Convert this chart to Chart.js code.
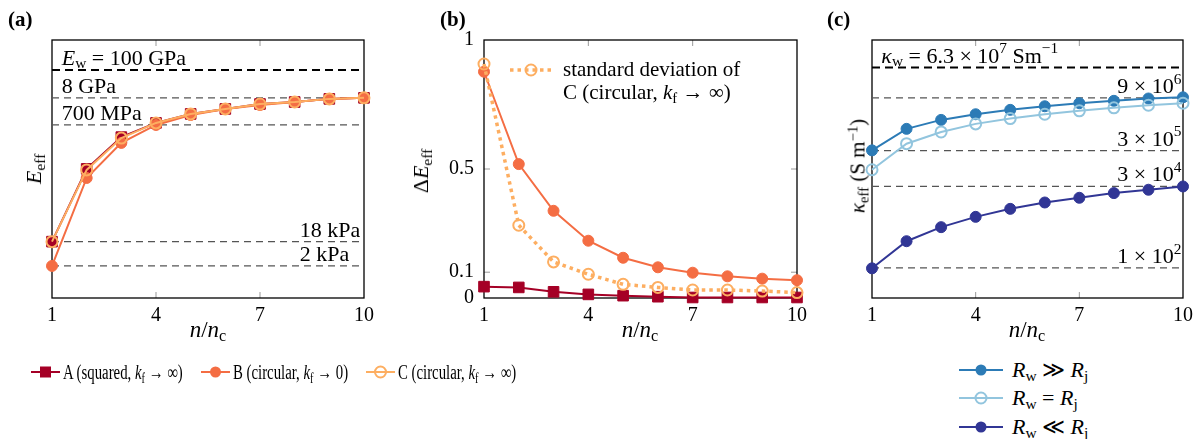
<!DOCTYPE html>
<html>
<head>
<meta charset="utf-8">
<script src="https://cdn.jsdelivr.net/npm/chart.js@4.4.1/dist/chart.umd.min.js"></script>
<style>
  body { margin: 0; background: #fff; font-family: "Liberation Serif", serif; }
  #wrap { position: relative; width: 1199px; height: 439px; overflow: hidden; }
  canvas { position: absolute; top: 0; }
  .t { position: absolute; white-space: nowrap; color: #000; line-height: 1; transform: translate(-50%, -50%); }
  .rot { transform: translate(-50%, -50%) rotate(-90deg); }
  .lbl { position: absolute; font-size: 21px; font-weight: bold; transform: translateY(-50%); line-height: 1; }
  sub { font-size: 70%; vertical-align: -0.25em; line-height: 0; }
  sup { font-size: 70%; vertical-align: 0.45em; line-height: 0; }
  .leg { position: absolute; display: flex; align-items: center; white-space: nowrap; transform: translateY(-50%); line-height: 1; }
  .leg svg { margin-right: 3px; }
  .narrow { display: inline-block; transform: scaleX(0.74); transform-origin: left center; }
</style>
</head>
<body>
<div id="wrap">
  <canvas id="chartA" width="400" height="340" style="left:0px"></canvas>
  <canvas id="chartB" width="420" height="340" style="left:400px"></canvas>
  <canvas id="chartC" width="379" height="340" style="left:820px"></canvas>

  <div class="lbl" style="left:8px;top:19px">(a)</div>
  <div class="lbl" style="left:440px;top:19px">(b)</div>
  <div class="lbl" style="left:827px;top:19px">(c)</div>

  <div class="t rot" style="left:34px;top:169px;font-size:22px"><i>E</i><sub>eff</sub></div>
  <div class="t rot" style="left:421px;top:171px;font-size:22px">Δ<i>E</i><sub>eff</sub></div>
  <div class="t rot" style="left:858px;top:166px;font-size:21px"><i>κ</i><sub>eff</sub> (S m<sup>−1</sup>)</div>

  <div class="t" style="left:208px;top:329px;font-size:23px"><i>n</i>/<i>n</i><sub>c</sub></div>
  <div class="t" style="left:640px;top:329px;font-size:23px"><i>n</i>/<i>n</i><sub>c</sub></div>
  <div class="t" style="left:1027px;top:329px;font-size:23px"><i>n</i>/<i>n</i><sub>c</sub></div>

  <div id="legends"></div>
</div>

<script>
// shared x values
const nRatio = [1, 2, 3, 4, 5, 6, 7, 8, 9, 10];
const xTicks = [1, 4, 7, 10];

// (a) effective Young's modulus (Pa)
const effA = [1.8e4, 1.3e7, 2.3e8, 8.3e8, 1.87e9, 2.94e9, 4.6e9, 5.5e9, 7.3e9, 8e9];
const effB = [2e3, 5.7e6, 1.36e8, 6.9e8, 1.7e9, 2.94e9, 4.2e9, 5.5e9, 7.3e9, 8e9];
const effC = [1.8e4, 1.18e7, 2.1e8, 8.3e8, 1.87e9, 2.94e9, 4.6e9, 5.5e9, 7.3e9, 8e9];
const effRefs = [1e11, 8e9, 7e8, 1.8e4, 2e3];

// (b) spread of E_eff
const devA = [0.044, 0.041, 0.024, 0.014, 0.009, 0.005, 0.002, 0.002, 0.002, 0.002];
const devB = [0.877, 0.519, 0.338, 0.222, 0.156, 0.119, 0.098, 0.084, 0.075, 0.069];
const devC = [0.907, 0.282, 0.140, 0.092, 0.053, 0.041, 0.031, 0.031, 0.027, 0.021];
const devTicks = [0, 0.1, 0.5, 1];

// (c) effective conductivity (S/m)
const kapHigh = [3.06e5, 1.22e6, 2.17e6, 3.12e6, 4.14e6, 5.22e6, 6.34e6, 7.4e6, 8.6e6, 9.3e6];
const kapEq = [8.8e4, 4.7e5, 1.0e6, 1.68e6, 2.36e6, 3.12e6, 3.88e6, 4.71e6, 5.57e6, 6.34e6];
const kapLow = [155, 887, 2190, 4250, 7110, 1.07e4, 1.45e4, 1.96e4, 2.43e4, 3.0e4];
const kapRefs = [6.3e7, 9e6, 3e5, 3e4, 1.6e2];

const colA = '#a50026', colB = '#f46d43', colC = '#fdae61';
const colHigh = '#2c7bb6', colEq = '#92c5de', colLow = '#313695';
const FONT = '"Liberation Serif", serif';

// labels on the reference lines: [text, style]
const effRefText = [
  [['E', 'i'], ['w', 'sub'], [' = 100 GPa']],
  [['8 GPa']], [['700 MPa']], [['18 kPa']], [['2 kPa']]
];
const kapRefText = [
  [['κ', 'i'], ['w', 'sub'], [' = 6.3 × 10'], ['7', 'sup'], [' Sm'], ['−1', 'sup']],
  [['9 × 10'], ['6', 'sup']], [['3 × 10'], ['5', 'sup']], [['3 × 10'], ['4', 'sup']], [['1 × 10'], ['2', 'sup']]
];

function pts(vals) { return nRatio.map((x, i) => ({x: x, y: vals[i]})); }

function refSets(vals) {
  return vals.map((v, i) => ({
    data: [{x: 1, y: v}, {x: 10, y: v}],
    borderColor: i === 0 ? '#000' : '#555',
    borderWidth: i === 0 ? 2 : 1.2,
    borderDash: i === 0 ? [8, 5] : [7, 5],
    pointRadius: 0, order: 10, clip: false
  }));
}

function series(vals, color, style, open, order) {
  return {
    data: pts(vals), borderColor: color, borderWidth: 2,
    pointStyle: style, pointRadius: style === 'rect' ? 7.5 : 5.5,
    pointBackgroundColor: open ? 'rgba(0,0,0,0)' : color,
    pointBorderColor: color, pointBorderWidth: open ? 2 : 1,
    tension: 0, order: order, clip: false
  };
}

function drawRich(ctx, segs, x, y, size) {
  segs.forEach(s => {
    let fs = size, dy = 0, st = '';
    if (s[1] === 'i') st = 'italic ';
    if (s[1] === 'sub') { fs = size * 0.7; dy = size * 0.15; }
    if (s[1] === 'sup') { fs = size * 0.7; dy = -size * 0.42; }
    ctx.font = st + fs + 'px ' + FONT;
    ctx.fillText(s[0], x, y + dy);
    x += ctx.measureText(s[0]).width;
  });
}

// frame, inward tick marks and reference labels
const framePlugin = {
  id: 'frame',
  beforeDatasetsDraw(chart, args, opts) {
    const ctx = chart.ctx, a = chart.chartArea, sx = chart.scales.x, sy = chart.scales.y;
    ctx.save();
    ctx.strokeStyle = '#999'; ctx.lineWidth = 1;
    ctx.beginPath();
    (opts.xMarks || []).forEach(v => {
      const x = sx.getPixelForValue(v);
      ctx.moveTo(x, a.top); ctx.lineTo(x, a.top + 6);
      ctx.moveTo(x, a.bottom); ctx.lineTo(x, a.bottom - 6);
    });
    (opts.yMarks || []).forEach(v => {
      const y = sy.getPixelForValue(v);
      ctx.moveTo(a.left, y); ctx.lineTo(a.left + 6, y);
      ctx.moveTo(a.right, y); ctx.lineTo(a.right - 6, y);
    });
    ctx.stroke();
    ctx.strokeStyle = '#000'; ctx.lineWidth = 1.3;
    ctx.strokeRect(a.left, a.top, a.right - a.left, a.bottom - a.top);
    ctx.fillStyle = '#000'; ctx.textBaseline = 'alphabetic'; ctx.textAlign = 'left';
    (opts.refs || []).forEach((v, i) => {
      const y = sy.getPixelForValue(v) - 5;
      const x = sx.getPixelForValue(opts.refAt[i]);
      drawRich(ctx, opts.refText[i], x, y, 22);
    });
    ctx.restore();
  }
};

function xScale() {
  return {
    type: 'linear', min: 1, max: 10,
    afterBuildTicks: s => { s.ticks = xTicks.map(v => ({value: v})); },
    afterFit: s => { s.height = 42; },
    grid: {display: false, drawTicks: false}, border: {display: false},
    ticks: {padding: 6, color: '#000', maxRotation: 0, font: {family: FONT, size: 20}}
  };
}

function baseOptions(padRight, yScale, frameOpts) {
  return {
    responsive: false, animation: false,
    layout: {padding: {top: 40, right: padRight, left: 0, bottom: 0}},
    plugins: {legend: {display: false}, tooltip: {enabled: false}, frame: frameOpts},
    scales: {x: xScale(), y: yScale}
  };
}

// (a)
new Chart(document.getElementById('chartA'), {
  type: 'line',
  data: {datasets: [
    series(effC, colC, 'circle', true, 1),
    series(effB, colB, 'circle', false, 2),
    series(effA, colA, 'rect', false, 3)
  ].concat(refSets(effRefs))},
  options: baseOptions(36, {
    type: 'logarithmic', min: 110, max: 1.5e12,
    afterFit: s => { s.width = 52; },
    grid: {display: false, drawTicks: false}, border: {display: false},
    ticks: {display: false}
  }, {xMarks: [4, 7], refs: effRefs, refText: effRefText, refAt: [1.28, 1.28, 1.28, 8.15, 8.15]}),
  plugins: [framePlugin]
});

// (b)
const setC = series(devC, colC, 'circle', true, 1);
setC.borderDash = [3.5, 4]; setC.borderWidth = 3.5; setC.pointBorderWidth = 2;
new Chart(document.getElementById('chartB'), {
  type: 'line',
  data: {datasets: [
    setC,
    series(devB, colB, 'circle', false, 2),
    series(devA, colA, 'rect', false, 3)
  ]},
  options: baseOptions(23, {
    type: 'linear', min: 0, max: 1,
    afterBuildTicks: s => { s.ticks = devTicks.map(v => ({value: v})); },
    afterFit: s => { s.width = 84; },
    grid: {display: false, drawTicks: false}, border: {display: false},
    ticks: {padding: 10, color: '#000', font: {family: FONT, size: 20}, callback: v => String(v)}
  }, {xMarks: [4, 7], yMarks: [0.1, 0.5]}),
  plugins: [framePlugin]
});

// (c)
new Chart(document.getElementById('chartC'), {
  type: 'line',
  data: {datasets: [
    series(kapEq, colEq, 'circle', true, 1),
    series(kapHigh, colHigh, 'circle', false, 2),
    series(kapLow, colLow, 'circle', false, 3)
  ].concat(refSets(kapRefs))},
  options: baseOptions(15, {
    type: 'logarithmic', min: 23, max: 3.7e8,
    afterFit: s => { s.width = 52; },
    grid: {display: false, drawTicks: false}, border: {display: false},
    ticks: {display: false}
  }, {xMarks: [4, 7], refs: kapRefs, refText: kapRefText, refAt: [1.27, 8.1, 8.1, 8.1, 8.1]}),
  plugins: [framePlugin]
});

// legends
function marker(color, kind, dotted, w) {
  const c = w / 2;
  let line = '<line x1="0" y1="10" x2="' + w + '" y2="10" stroke="' + color + '" stroke-width="' + (dotted ? 3.5 : 2) + '"' +
    (dotted ? ' stroke-dasharray="3.5 4"' : '') + '/>';
  let m;
  if (kind === 'rect') m = '<rect x="' + (c - 5.5) + '" y="4.5" width="11" height="11" fill="' + color + '"/>';
  else if (kind === 'open') m = '<circle cx="' + c + '" cy="10" r="5.5" fill="none" stroke="' + color + '" stroke-width="2"/>';
  else m = '<circle cx="' + c + '" cy="10" r="5.5" fill="' + color + '"/>';
  return '<svg width="' + w + '" height="20">' + line + m + '</svg>';
}

const legendItems = [
  {x: 31, y: 372, w: 29, color: colA, kind: 'rect', size: 20, narrow: true, html: 'A (squared, <i>k</i><sub>f</sub> → ∞)'},
  {x: 201, y: 372, w: 29, color: colB, kind: 'fill', size: 20, narrow: true, html: 'B (circular, <i>k</i><sub>f</sub> → 0)'},
  {x: 366, y: 372, w: 29, color: colC, kind: 'open', size: 20, narrow: true, html: 'C (circular, <i>k</i><sub>f</sub> → ∞)'},
  {x: 959, y: 370, w: 44, color: colHigh, kind: 'fill', size: 22, html: '<i>R</i><sub>w</sub> ≫ <i>R</i><sub>j</sub>'},
  {x: 959, y: 398, w: 44, color: colEq, kind: 'open', size: 22, html: '<i>R</i><sub>w</sub> = <i>R</i><sub>j</sub>'},
  {x: 959, y: 427, w: 44, color: colLow, kind: 'fill', size: 22, html: '<i>R</i><sub>w</sub> ≪ <i>R</i><sub>j</sub>'},
  {x: 510, y: 70, w: 42, color: colC, kind: 'open', dotted: true, size: 21, html: 'standard deviation of<br>C (circular, <i>k</i><sub>f</sub> → ∞)'}
];
let legHtml = '';
legendItems.forEach(it => {
  if (it.dotted) {
    legHtml += '<div class="leg" style="left:' + it.x + 'px;top:' + it.y + 'px">' + marker(it.color, it.kind, true, it.w) + '</div>';
    legHtml += '<div style="position:absolute;left:' + (it.x + it.w + 11) + 'px;top:' + (it.y - 12) + 'px;font-size:' + it.size + 'px;line-height:23px;white-space:nowrap">' + it.html + '</div>';
  } else {
    legHtml += '<div class="leg" style="left:' + it.x + 'px;top:' + it.y + 'px;font-size:' + it.size + 'px">' +
      marker(it.color, it.kind, false, it.w) + '<span class="' + (it.narrow ? 'narrow' : '') + '" style="margin-left:' + (it.w > 40 ? 6 : 0) + 'px">' + it.html + '</span></div>';
  }
});
document.getElementById('legends').innerHTML = legHtml;
</script>
</body>
</html>
